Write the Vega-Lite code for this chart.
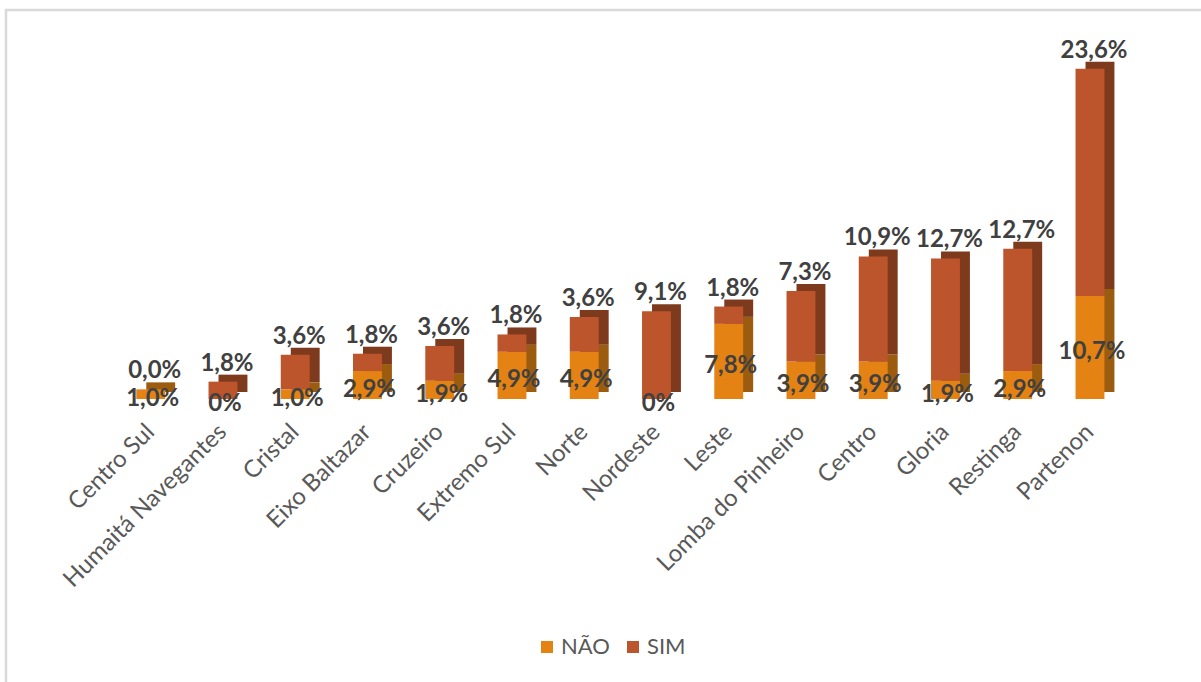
{
  "$schema": "https://vega.github.io/schema/vega-lite/v6.json",
  "width": 1201,
  "height": 678,
  "autosize": "none",
  "padding": {"left": 6, "top": 10, "right": -6, "bottom": -6},
  "background": "white",
  "config": {
    "view": {"stroke": "#D9D9D9", "strokeWidth": 2.5},
    "font": "Lato"
  },
  "data": {
    "values": [
      {"regiao": "Centro Sul", "resposta": "NÃO", "valor": 1.0, "rotulo": "1,0%"},
      {"regiao": "Centro Sul", "resposta": "SIM", "valor": 0.0, "rotulo": "0,0%"},
      {"regiao": "Humaitá Navegantes", "resposta": "NÃO", "valor": 0.0, "rotulo": "0%"},
      {"regiao": "Humaitá Navegantes", "resposta": "SIM", "valor": 1.8, "rotulo": "1,8%"},
      {"regiao": "Cristal", "resposta": "NÃO", "valor": 1.0, "rotulo": "1,0%"},
      {"regiao": "Cristal", "resposta": "SIM", "valor": 3.6, "rotulo": "3,6%"},
      {"regiao": "Eixo Baltazar", "resposta": "NÃO", "valor": 2.9, "rotulo": "2,9%"},
      {"regiao": "Eixo Baltazar", "resposta": "SIM", "valor": 1.8, "rotulo": "1,8%"},
      {"regiao": "Cruzeiro", "resposta": "NÃO", "valor": 1.9, "rotulo": "1,9%"},
      {"regiao": "Cruzeiro", "resposta": "SIM", "valor": 3.6, "rotulo": "3,6%"},
      {"regiao": "Extremo Sul", "resposta": "NÃO", "valor": 4.9, "rotulo": "4,9%"},
      {"regiao": "Extremo Sul", "resposta": "SIM", "valor": 1.8, "rotulo": "1,8%"},
      {"regiao": "Norte", "resposta": "NÃO", "valor": 4.9, "rotulo": "4,9%"},
      {"regiao": "Norte", "resposta": "SIM", "valor": 3.6, "rotulo": "3,6%"},
      {"regiao": "Nordeste", "resposta": "NÃO", "valor": 0.0, "rotulo": "0%"},
      {"regiao": "Nordeste", "resposta": "SIM", "valor": 9.1, "rotulo": "9,1%"},
      {"regiao": "Leste", "resposta": "NÃO", "valor": 7.8, "rotulo": "7,8%"},
      {"regiao": "Leste", "resposta": "SIM", "valor": 1.8, "rotulo": "1,8%"},
      {"regiao": "Lomba do Pinheiro", "resposta": "NÃO", "valor": 3.9, "rotulo": "3,9%"},
      {"regiao": "Lomba do Pinheiro", "resposta": "SIM", "valor": 7.3, "rotulo": "7,3%"},
      {"regiao": "Centro", "resposta": "NÃO", "valor": 3.9, "rotulo": "3,9%"},
      {"regiao": "Centro", "resposta": "SIM", "valor": 10.9, "rotulo": "10,9%"},
      {"regiao": "Gloria", "resposta": "NÃO", "valor": 1.9, "rotulo": "1,9%"},
      {"regiao": "Gloria", "resposta": "SIM", "valor": 12.7, "rotulo": "12,7%"},
      {"regiao": "Restinga", "resposta": "NÃO", "valor": 2.9, "rotulo": "2,9%"},
      {"regiao": "Restinga", "resposta": "SIM", "valor": 12.7, "rotulo": "12,7%"},
      {"regiao": "Partenon", "resposta": "NÃO", "valor": 10.7, "rotulo": "10,7%"},
      {"regiao": "Partenon", "resposta": "SIM", "valor": 23.6, "rotulo": "23,6%"}
    ]
  },
  "encoding": {
    "x": {
      "field": "regiao",
      "type": "nominal",
      "sort": null,
      "scale": {"range": [108.6, 1120.1], "paddingInner": 0.6, "paddingOuter": 0.3},
      "axis": {
        "title": null,
        "domain": false,
        "ticks": false,
        "grid": false,
        "labelAngle": -45,
        "labelAlign": "right",
        "labelBaseline": "middle",
        "labelPadding": 29,
        "labelFontSize": 24,
        "labelFont": "Lato",
        "labelColor": "#595959",
        "labelLimit": 400,
        "labelOverlap": false,
        "offset": -289
      }
    }
  },
  "layer": [
    {
      "mark": {"type": "bar", "xOffset": 10, "yOffset": -7, "y2Offset": -7},
      "encoding": {
        "y": {
          "field": "valor",
          "type": "quantitative",
          "stack": "zero",
          "scale": {"domain": [-30.01, 40.39], "nice": false, "zero": false},
          "axis": null
        },
        "detail": {"field": "resposta"},
        "order": {"field": "resposta", "sort": "ascending"},
        "color": {
          "condition": {"test": "datum.resposta === 'NÃO'", "value": "#9C5C0F"},
          "value": "#7E3A1D"
        }
      }
    },
    {
      "mark": {"type": "bar"},
      "encoding": {
        "y": {"field": "valor", "type": "quantitative", "stack": "zero"},
        "order": {"field": "resposta", "sort": "ascending"},
        "color": {
          "field": "resposta",
          "type": "nominal",
          "scale": {"domain": ["NÃO", "SIM"], "range": ["#E48313", "#BC552B"]},
          "legend": {
            "title": null,
            "orient": "none",
            "direction": "horizontal",
            "legendX": 530,
            "legendY": 626,
            "padding": 0,
            "symbolType": "square",
            "symbolSize": 144,
            "symbolStrokeWidth": 0,
            "labelFontSize": 22,
            "labelFont": "Lato",
            "labelColor": "#595959",
            "labelOffset": 3,
            "columnPadding": 12
          }
        }
      }
    },
    {
      "mark": {"type": "text", "font": "Lato", "fontWeight": "bold", "fontSize": 24, "color": "#404040", "align": "center", "baseline": "middle", "dx": 2, "dy": 5},
      "encoding": {
        "y": {"field": "valor", "type": "quantitative", "stack": "zero", "bandPosition": 0.5},
        "detail": {"field": "resposta"},
        "order": {"field": "resposta", "sort": "ascending"},
        "text": {"condition": {"test": "datum.resposta === 'NÃO'", "field": "rotulo"}, "value": ""}
      }
    },
    {
      "mark": {"type": "text", "font": "Lato", "fontWeight": "bold", "fontSize": 24, "color": "#404040", "align": "center", "baseline": "middle", "dx": 4, "dy": -18},
      "encoding": {
        "y": {"field": "valor", "type": "quantitative", "stack": "zero"},
        "detail": {"field": "resposta"},
        "order": {"field": "resposta", "sort": "ascending"},
        "text": {"condition": {"test": "datum.resposta === 'SIM'", "field": "rotulo"}, "value": ""}
      }
    }
  ]
}
